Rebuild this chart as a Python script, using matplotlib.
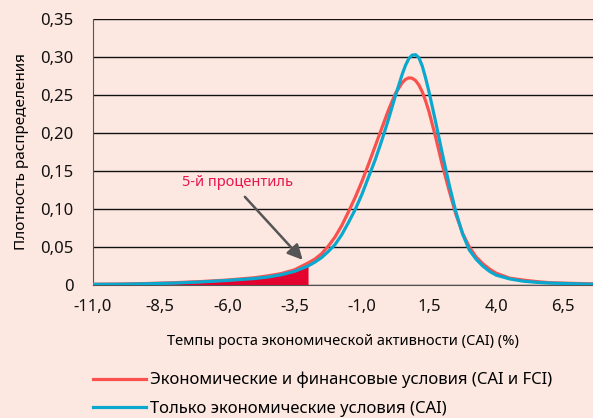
import matplotlib
matplotlib.use("Agg")
import matplotlib.pyplot as plt
from matplotlib.ticker import FuncFormatter

plt.rcParams['font.family'] = ['Noto Sans', 'DejaVu Sans']

# growth rate grid (%) and density
x = [-11, -10, -9, -8, -7, -6, -5, -4.5, -4, -3.5, -3, -2.75, -2.5, -2.25, -2, -1.75,
     -1.5, -1.25, -1, -0.75, -0.5, -0.25, 0, 0.25, 0.5, 0.625, 0.75, 0.875, 1.0,
     1.125, 1.25, 1.375, 1.5, 1.75, 2.0, 2.25, 2.5, 2.75, 3.0, 3.25, 3.5, 3.75,
     4.0, 4.5, 5.0, 5.5, 6.0, 7.0, 7.6]

cai_fci = [0.001, 0.0013, 0.002, 0.003, 0.0045, 0.0065, 0.0095, 0.012, 0.015, 0.020,
           0.029, 0.034, 0.041, 0.051, 0.063, 0.078, 0.096, 0.115, 0.136, 0.159,
           0.183, 0.207, 0.231, 0.252, 0.266, 0.2705, 0.2726, 0.2720, 0.269,
           0.263, 0.254, 0.242, 0.228, 0.194, 0.157, 0.124, 0.093, 0.068, 0.050,
           0.037, 0.028, 0.021, 0.0155, 0.009, 0.0065, 0.0045, 0.003, 0.002, 0.0015]

cai_only = [0.0008, 0.001, 0.0016, 0.0025, 0.004, 0.006, 0.0085, 0.0105, 0.0135, 0.018,
            0.025, 0.030, 0.036, 0.044, 0.053, 0.066, 0.082, 0.099, 0.119, 0.142,
            0.165, 0.191, 0.219, 0.249, 0.277, 0.289, 0.298, 0.3025, 0.3030,
            0.299, 0.288, 0.272, 0.254, 0.214, 0.172, 0.132, 0.096, 0.067, 0.046,
            0.034, 0.025, 0.018, 0.013, 0.008, 0.005, 0.0035, 0.0025, 0.0015, 0.001]

pct5 = -3.0
x_ticks = [-11.0, -8.5, -6.0, -3.5, -1.0, 1.5, 4.0, 6.5]
y_ticks = [0, 0.05, 0.10, 0.15, 0.20, 0.25, 0.30, 0.35]

bg = '#fde8e1'
red = '#f9514d'
blue = '#0aa8cf'

fig = plt.figure(figsize=(5.93, 4.18), dpi=100, facecolor=bg)
ax = fig.add_axes([93 / 593, 1 - 285 / 418, 500 / 593, 266 / 418], facecolor=bg)

# shaded tail below the 5th percentile
xs = [v for v in x if v <= pct5]
ys = [cai_fci[i] for i, v in enumerate(x) if v <= pct5]
ax.fill_between(xs, 0, ys, color='#e4032e', lw=0, zorder=2)

ax.plot(x, cai_fci, color=red, lw=2.3, zorder=3, solid_joinstyle='round',
        label='Экономические и финансовые условия (CAI и FCI)')
ax.plot(x, cai_only, color=blue, lw=2.3, zorder=4, solid_joinstyle='round',
        label='Только экономические условия (CAI)')

ax.annotate('', xy=(-3.2, 0.033), xytext=(-5.35, 0.116),
            arrowprops=dict(arrowstyle='-|>,head_length=0.9,head_width=0.45',
                            color='#555555', lw=1.8, shrinkA=0, shrinkB=0),
            zorder=5)
ax.text(-5.63, 0.1355, '5-й процентиль', color='#e8174a', fontsize=10.5,
        ha='center', va='center')

ax.set_xlim(-11, 7.6)
ax.set_ylim(0, 0.35)
ax.set_xticks(x_ticks)
ax.set_yticks(y_ticks)
ax.xaxis.set_major_formatter(FuncFormatter(lambda v, p: f'{v:.1f}'.replace('.', ',')))
ax.yaxis.set_major_formatter(FuncFormatter(lambda v, p: '0' if v == 0 else f'{v:.2f}'.replace('.', ',')))
ax.tick_params(length=0, labelsize=12, colors='#111111')
ax.tick_params(axis='y', pad=14)
ax.tick_params(axis='x', pad=10)
ax.grid(axis='y', color='#111111', lw=1)
ax.set_axisbelow(True)
for s in ['top', 'right']:
    ax.spines[s].set_visible(False)
ax.spines['left'].set_color('#555555')
ax.spines['bottom'].set_color('#555555')

ax.set_ylabel('Плотность распределения', fontsize=11, labelpad=8)
ax.set_xlabel('Темпы роста экономической активности (CAI) (%)', fontsize=10.5, labelpad=14)

fig.legend(loc='upper left', bbox_to_anchor=(93 / 593, 1 - 372 / 418), frameon=False,
           fontsize=12, handlelength=3.15, handletextpad=0.3, labelspacing=0.75,
           borderaxespad=0, borderpad=0)

fig.savefig('out.png', dpi=100, facecolor=bg)
